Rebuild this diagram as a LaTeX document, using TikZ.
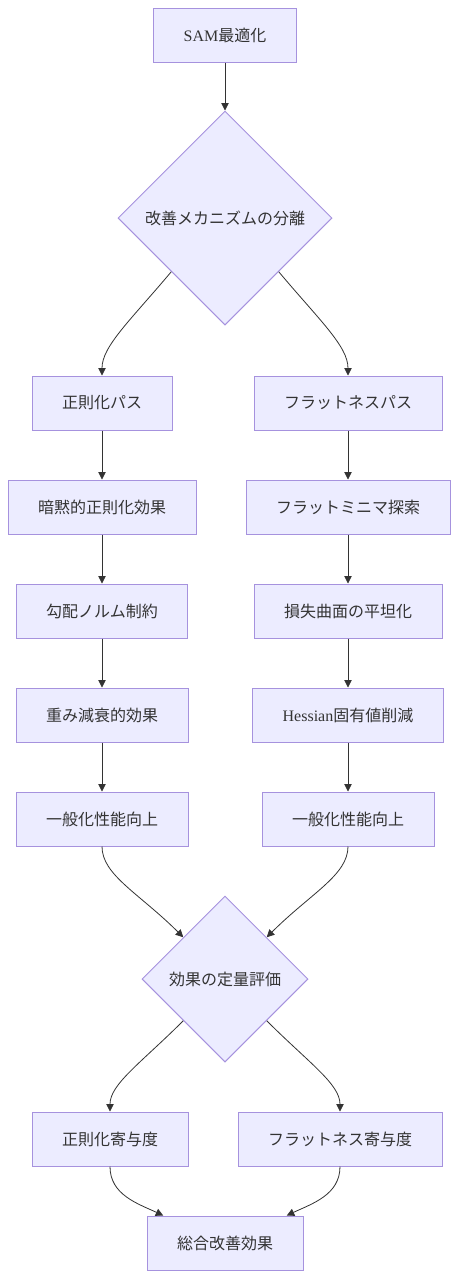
\documentclass[tikz,border=0pt]{standalone}
\usepackage{fontspec}
\setmainfont{Liberation Serif}
\newfontfamily\cjk{Noto Sans CJK JP}
\usetikzlibrary{shapes.geometric, arrows.meta}

\definecolor{boxfill}{HTML}{ECECFF}
\definecolor{boxline}{HTML}{A692DE}
\definecolor{linegray}{HTML}{333333}

\tikzset{
  box/.style={draw=boxline, fill=boxfill, line width=1pt, inner xsep=30pt,
    minimum height=54pt, text=linegray, font={\cjk\fontsize{16}{19}\selectfont}},
  decision/.style={diamond, aspect=1, draw=boxline, fill=boxfill, line width=1pt,
    inner sep=0pt, text=linegray, font={\cjk\fontsize{16}{19}\selectfont}},
  arr/.style={draw=linegray, line width=0.8pt, -{Triangle[length=7.5pt,width=7.5pt]}},
  latebend/.style={out looseness=1.3, in looseness=0.6},
  earlybend/.style={out looseness=0.6, in looseness=1.3}
}

\begin{document}
\begin{tikzpicture}[x=1pt, y=1pt]
  \useasboundingbox (0,0) rectangle (458,-1278);

  % Start
  \node[box] (sam) at (225,-35) {\textrm{SAM}最適化};
  \node[decision, minimum size=214pt] (split) at (225,-218) {改善メカニズムの分離};

  % Left path
  \node[box] (regpath) at (102,-403) {正則化パス};
  \node[box] (implicit) at (102,-507) {暗黙的正則化効果};
  \node[box] (gradnorm) at (102,-611) {勾配ノルム制約};
  \node[box] (decay) at (102,-715) {重み減衰的効果};
  \node[box] (genleft) at (102,-819) {一般化性能向上};

  % Right path
  \node[box] (flatpath) at (348,-403) {フラットネスパス};
  \node[box] (minima) at (348,-507) {フラットミニマ探索};
  \node[box] (surface) at (348,-611) {損失曲面の平坦化};
  \node[box] (hessian) at (348,-715) {\textrm{Hessian}固有値削減};
  \node[box] (genright) at (348,-819) {一般化性能向上};

  % Evaluation
  \node[decision, minimum size=166pt] (eval) at (225,-979) {効果の定量評価};
  \node[box] (regcon) at (110,-1139) {正則化寄与度};
  \node[box] (flatcon) at (340,-1139) {フラットネス寄与度};
  \node[box] (total) at (225,-1243) {総合改善効果};

  % Connectors
  \draw[arr] (sam) -- (split);
  \draw[arr] (split.south west) to[out=-130, in=90, latebend] (regpath.north);
  \draw[arr] (split.south east) to[out=-50, in=90, latebend] (flatpath.north);
  \draw[arr] (regpath) -- (implicit);
  \draw[arr] (implicit) -- (gradnorm);
  \draw[arr] (gradnorm) -- (decay);
  \draw[arr] (decay) -- (genleft);
  \draw[arr] (flatpath) -- (minima);
  \draw[arr] (minima) -- (surface);
  \draw[arr] (surface) -- (hessian);
  \draw[arr] (hessian) -- (genright);
  \draw[arr] (genleft.south) to[out=-90, in=135, earlybend] (eval.north west);
  \draw[arr] (genright.south) to[out=-90, in=45, earlybend] (eval.north east);
  \draw[arr] (eval.south west) to[out=-135, in=90, latebend] (regcon.north);
  \draw[arr] (eval.south east) to[out=-45, in=90, latebend] (flatcon.north);
  \draw[arr] (regcon.south) to[out=-90, in=155] (total.156);
  \draw[arr] (flatcon.south) to[out=-90, in=25] (total.24);

\end{tikzpicture}
\end{document}
